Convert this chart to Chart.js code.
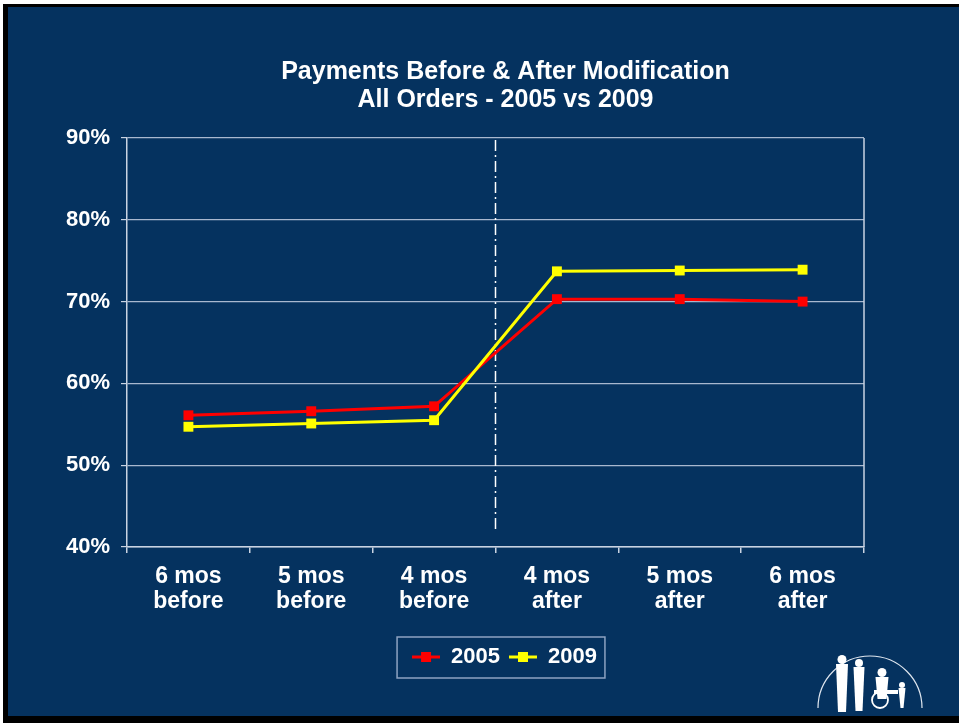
<!DOCTYPE html>
<html>
<head>
<meta charset="utf-8">
<script src="https://cdn.jsdelivr.net/npm/chart.js@4.4.1/dist/chart.umd.min.js"></script>
<style>
  html, body { margin: 0; padding: 0; background: #fff; }
  #frame { position: absolute; left: 3px; top: 4px; width: 956px; height: 719px; background: #000; }
  #wrap { position: absolute; left: 8px; top: 7px; width: 951px; height: 709px; background: #05325f; }
</style>
</head>
<body>
<div id="frame"></div>
<div id="wrap"><canvas id="paymentsChart" width="951" height="709"></canvas></div>
<script>
// chart data
const categories = [
  ["6 mos", "before"], ["5 mos", "before"], ["4 mos", "before"],
  ["4 mos", "after"], ["5 mos", "after"], ["6 mos", "after"]
]
const series2005 = [56.1, 56.6, 57.2, 70.3, 70.3, 70.0]
const series2009 = [54.7, 55.1, 55.5, 73.7, 73.8, 73.9]
const seriesNames = ["2005", "2009"]
const yTicks = [40, 50, 60, 70, 80, 90]
const titleLines = ["Payments Before & After Modification", "All Orders - 2005 vs 2009"]
const modificationIndex = 2.5 // between "4 mos before" and "4 mos after"

const FONT = "'Liberation Sans', Arial, sans-serif"
const RED = "#ff0000"
const YELLOW = "#ffff00"

document.addEventListener("DOMContentLoaded", () => {
  initializeChart()
})

function legendMarker(color) {
  const c = document.createElement("canvas")
  c.width = 28
  c.height = 12
  const g = c.getContext("2d")
  g.strokeStyle = color
  g.lineWidth = 3
  g.beginPath()
  g.moveTo(0, 6)
  g.lineTo(28, 6)
  g.stroke()
  g.fillStyle = color
  g.fillRect(9, 1, 10, 10)
  return c
}

// title, box, dash-dot divider, legend frame and logo
const decorPlugin = {
  id: "decor",
  afterLayout(chart) {
    // legend sits a bit right of centre in the original
    const lg = chart.legend
    if (lg) {
      lg.left += 44
      lg.right += 44
    }
  },
  beforeDatasetsDraw(chart) {
    const { ctx, chartArea } = chart
    const x = chart.scales.x.getPixelForValue(modificationIndex)
    ctx.save()
    ctx.strokeStyle = "#ffffff"
    ctx.lineWidth = 1.5
    ctx.setLineDash([11, 4, 2, 4])
    ctx.beginPath()
    ctx.moveTo(x, chartArea.top + 2)
    ctx.lineTo(x, chartArea.bottom - 18)
    ctx.stroke()
    ctx.restore()
  },
  afterDraw(chart) {
    const { ctx, chartArea } = chart
    ctx.save()
    // plot box (right side)
    ctx.strokeStyle = "#c9d3e2"
    ctx.lineWidth = 1.5
    ctx.beginPath()
    ctx.moveTo(chartArea.right, chartArea.top)
    ctx.lineTo(chartArea.right, chartArea.bottom)
    ctx.stroke()

    // title
    ctx.fillStyle = "#ffffff"
    ctx.font = "bold 25px " + FONT
    ctx.textAlign = "center"
    ctx.textBaseline = "middle"
    const cx = (chartArea.left + chartArea.right) / 2 + 10
    titleLines.forEach((line, i) => ctx.fillText(line, cx, 65 + i * 28))

    // legend frame
    const boxes = chart.legend.legendHitBoxes
    if (boxes && boxes.length) {
      const left = Math.min(...boxes.map((b) => b.left)) - 15
      const right = Math.max(...boxes.map((b) => b.left + b.width)) + 8
      ctx.strokeStyle = "#8ea3c2"
      ctx.lineWidth = 1.5
      ctx.strokeRect(left, chart.legend.top, right - left, chart.legend.height)
    }

    // logo (rough sketch)
    const lx = 862, ly = 701
    ctx.strokeStyle = "#dfe6ef"
    ctx.lineWidth = 1.2
    ctx.beginPath()
    ctx.arc(lx, ly, 52, Math.PI, 0)
    ctx.stroke()
    ctx.fillStyle = "#ffffff"
    const fig = (x, top, w, h, r) => {
      ctx.beginPath()
      ctx.arc(x, top + r, r, 0, Math.PI * 2)
      ctx.fill()
      ctx.beginPath()
      ctx.moveTo(x - w / 2, top + 2 * r)
      ctx.lineTo(x + w / 2, top + 2 * r)
      ctx.lineTo(x + w / 2 - 2, top + 2 * r + h)
      ctx.lineTo(x - w / 2 + 2, top + 2 * r + h)
      ctx.closePath()
      ctx.fill()
    }
    fig(834, 648, 12, 48, 4.5)
    fig(851, 652, 11, 44, 4)
    fig(874, 661, 13, 22, 4.5)
    fig(894, 675, 7, 20, 3)
    ctx.fillRect(866, 683, 24, 4)
    ctx.beginPath()
    ctx.arc(872, 693, 8, 0, Math.PI * 2)
    ctx.strokeStyle = "#ffffff"
    ctx.lineWidth = 1.8
    ctx.stroke()
    ctx.restore()
  },
}

function initializeChart() {
  const ctx = document.getElementById("paymentsChart")
  if (!ctx) return

  const datasets = [series2005, series2009].map((values, i) => {
    const color = i === 0 ? RED : YELLOW
    return {
      label: seriesNames[i],
      data: values,
      borderColor: color,
      backgroundColor: color,
      borderWidth: 3,
      pointStyle: "rect",
      pointRadius: 7,
      pointBorderWidth: 0,
      pointBackgroundColor: color,
      tension: 0,
      order: 1 - i,
    }
  })

  new Chart(ctx, {
    type: "line",
    data: { labels: categories, datasets: datasets },
    plugins: [decorPlugin],
    options: {
      responsive: false,
      animation: false,
      layout: { padding: { left: 49, right: 95, top: 131, bottom: 38 } },
      plugins: {
        title: { display: false },
        tooltip: { enabled: false },
        legend: {
          display: true,
          position: "bottom",
          labels: {
            color: "#ffffff",
            font: { family: FONT, size: 22, weight: "bold" },
            padding: 9,
            usePointStyle: true,
            pointStyleWidth: 28,
            generateLabels: (chart) =>
              chart.data.datasets.map((ds, i) => ({
                text: ds.label,
                fontColor: "#ffffff",
                pointStyle: legendMarker(ds.borderColor),
                lineWidth: 0,
                strokeStyle: "transparent",
                fillStyle: "transparent",
                hidden: false,
                datasetIndex: i,
              })),
          },
        },
      },
      scales: {
        x: {
          offset: true,
          afterFit: (scale) => { scale.height = 90 },
          grid: {
            offset: true,
            drawOnChartArea: false,
            drawTicks: true,
            tickLength: 6,
            color: "#c9d3e2",
            lineWidth: 1.5,
          },
          border: { color: "#c9d3e2", width: 1.5 },
          ticks: {
            color: "#ffffff",
            padding: 11,
            maxRotation: 0,
            font: { family: FONT, size: 23, weight: "bold", lineHeight: 1.1 },
          },
        },
        y: {
          min: yTicks[0],
          max: yTicks[yTicks.length - 1],
          afterFit: (scale) => { scale.width = 70 },
          afterBuildTicks: (scale) => { scale.ticks = yTicks.map((v) => ({ value: v })) },
          grid: {
            color: "#a9b8cf",
            lineWidth: 1.2,
            tickLength: 6,
            tickColor: "#c9d3e2",
          },
          border: { color: "#c9d3e2", width: 1.5 },
          ticks: {
            color: "#ffffff",
            padding: 11,
            font: { family: FONT, size: 22, weight: "bold" },
            callback: (v) => v + "%",
          },
        },
      },
    },
  })
}
</script>
</body>
</html>
